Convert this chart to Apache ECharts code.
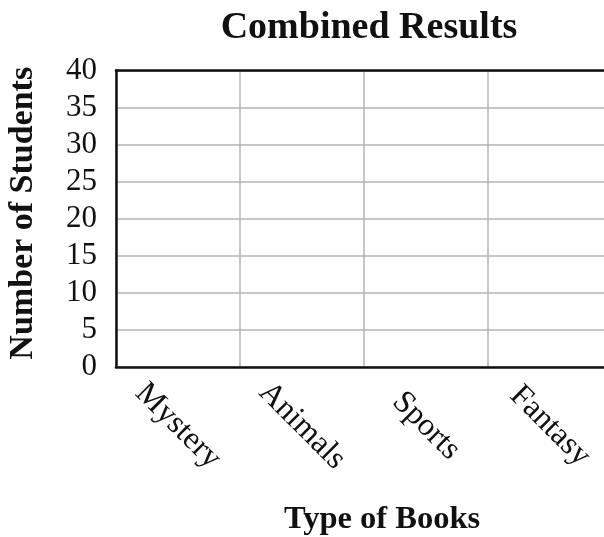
<!DOCTYPE html>
<html><head><meta charset="utf-8">
<script src="https://cdn.jsdelivr.net/npm/echarts@6/dist/echarts.min.js"></script>
<style>html,body{margin:0;padding:0;background:#fff}#c{width:604px;height:537px}</style>
</head><body><div id="c"></div>
<script>
const titleText = 'Combined Results';
const xAxisTitle = 'Type of Books';
const yAxisTitle = 'Number of Students';
const categories = ['Mystery', 'Animals', 'Sports', 'Fantasy'];
const studentCounts = [null, null, null, null];
const yMin = 0, yMax = 40, yStep = 5;

const FONT = '"Liberation Serif", "Times New Roman", serif';
const chart = echarts.init(document.getElementById('c'), null, {renderer: 'canvas'});
chart.setOption({
  animation: false,
  backgroundColor: '#fff',
  title: {
    text: titleText, left: 364, top: 4, textAlign: 'center',
    textStyle: {fontFamily: FONT, fontWeight: 'bold', fontSize: 38, color: '#111'}
  },
  grid: {left: 116, top: 70.5, width: 496, bottom: 170, containLabel: false, outerBoundsMode: 'none'},
  xAxis: [{
    type: 'category', data: categories, position: 'bottom',
    axisLine: {show: true, lineStyle: {color: '#111', width: 2.5}},
    axisTick: {show: false},
    splitLine: {show: true, lineStyle: {color: '#b3b3b3', width: 1.5}},
    axisLabel: {interval: 0, rotate: -45, margin: 59, align: 'center', verticalAlign: 'middle',
      fontFamily: FONT, fontSize: 32, color: '#111'},
    name: xAxisTitle, nameLocation: 'middle', nameGap: 136,
    nameTextStyle: {fontFamily: FONT, fontWeight: 'bold', fontSize: 32.5, color: '#111', padding: [0, 0, 0, 36]}
  }, {
    type: 'category', data: categories, position: 'top',
    axisLine: {show: true, lineStyle: {color: '#111', width: 2.5}},
    axisTick: {show: false}, axisLabel: {show: false}, splitLine: {show: false}
  }],
  yAxis: {
    type: 'value', min: yMin, max: yMax, interval: yStep,
    axisLine: {show: true, lineStyle: {color: '#111', width: 2.5}},
    axisTick: {show: false},
    splitLine: {show: true, lineStyle: {color: '#b3b3b3', width: 1.5}},
    axisLabel: {margin: 19, fontFamily: FONT, fontSize: 31, color: '#111'},
    name: yAxisTitle, nameLocation: 'middle', nameGap: 76,
    nameTextStyle: {fontFamily: FONT, fontWeight: 'bold', fontSize: 34, color: '#111', padding: [0, 0, 0, 11]}
  },
  series: [{type: 'bar', xAxisIndex: 0, data: studentCounts, itemStyle: {color: '#4472c4'}}]
});
</script></body></html>
